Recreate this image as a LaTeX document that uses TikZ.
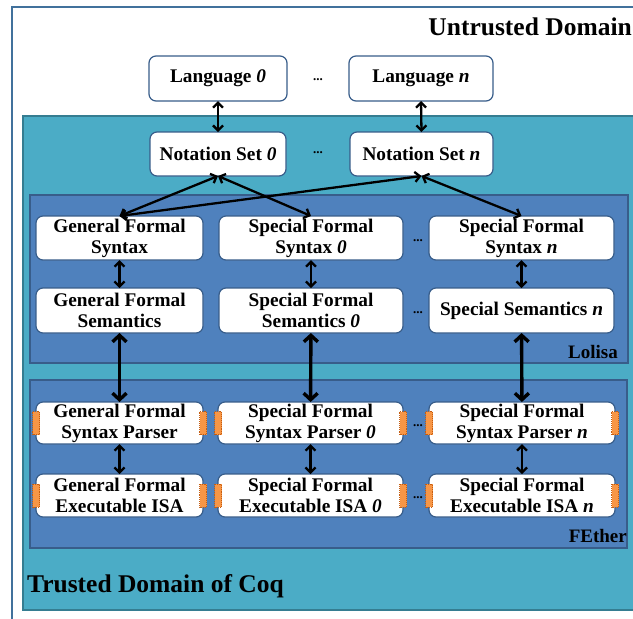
\documentclass[tikz,border=0pt]{standalone}
\usepackage{fontspec}
\setmainfont{Liberation Serif}
\usetikzlibrary{arrows.meta}
\definecolor{frameblue}{HTML}{41719C}
\definecolor{cteal}{HTML}{4BACC6}
\definecolor{ctealdark}{HTML}{357D91}
\definecolor{cblue}{HTML}{4F81BD}
\definecolor{cbluedark}{HTML}{385D8A}
\definecolor{corange}{HTML}{F79646}
\definecolor{corangedark}{HTML}{C65D10}
\begin{document}
\begin{tikzpicture}[x=1pt,y=-1pt,
  box/.style={draw=cbluedark, fill=white, rounded corners=7pt, line width=1.2pt,
    align=center, font=\fontsize{19.3}{21}\selectfont\bfseries, inner sep=0pt, outer sep=0pt},
  arr/.style={{Straight Barb[length=5pt,width=10pt]}-{Straight Barb[length=5pt,width=10pt]}, line width=2.3pt},
  thickarr/.style={{Straight Barb[length=6.5pt,width=14pt]}-{Straight Barb[length=6.5pt,width=14pt]}, line width=3.4pt},
  bar/.style={fill=corange, draw=corangedark, densely dotted, line width=0.9pt},
  dots/.style={font=\fontsize{13}{13}\selectfont\bfseries, inner sep=0pt, anchor=base},
  lbl/.style={font=\fontsize{19}{21}\selectfont\bfseries, inner sep=0pt},
  biglbl/.style={font=\fontsize{25.5}{27}\selectfont\bfseries, inner sep=0pt}
]
\useasboundingbox (0,0) rectangle (633,619);
\clip (0,0) rectangle (633,619);
\fill[white] (0,0) rectangle (633,619);
% frames
\draw[draw=frameblue, fill=white, line width=1.5pt] (12,7) rectangle (660,660);
\draw[draw=ctealdark, fill=cteal, line width=1.5pt] (23,116) rectangle (660,610);
\draw[draw=cbluedark, fill=cblue, line width=1.5pt] (30,195) rectangle (628,363);
\draw[draw=cbluedark, fill=cblue, line width=1.5pt] (30,380) rectangle (627,548);
% labels
\node[biglbl, anchor=base east] (untrusted) at (632,35) {Untrusted Domain};
\node[biglbl, anchor=base west] (trusted) at (27,592) {Trusted Domain of Coq};
\node[lbl, anchor=base east] (lolisa) at (618,358) {Lolisa};
\node[lbl, anchor=base east] (fether) at (627,542) {FEther};
% top nodes
\node[box, minimum width=138pt, minimum height=45pt] (lang0) at (218,78.5) {Language \textit{0}};
\node[box, minimum width=144pt, minimum height=45pt] (langn) at (421,78.5) {Language \textit{n}};
\node[box, minimum width=136pt, minimum height=44pt] (not0) at (218,154) {Notation Set \textit{0}};
\node[box, minimum width=143pt, minimum height=44pt] (notn) at (421.5,154) {Notation Set \textit{n}};
% Lolisa nodes
\node[box, minimum width=167pt, minimum height=44pt] (gsyn) at (119.5,238) {General Formal\\Syntax};
\node[box, minimum width=184pt, minimum height=44pt] (s0syn) at (311,238) {Special Formal\\Syntax \textit{0}};
\node[box, minimum width=185pt, minimum height=44pt] (snsyn) at (521.5,238) {Special Formal\\Syntax \textit{n}};
\node[box, minimum width=167pt, minimum height=45pt] (gsem) at (119.5,310.5) {General Formal\\Semantics};
\node[box, minimum width=184pt, minimum height=45pt] (s0sem) at (311,310.5) {Special Formal\\Semantics \textit{0}};
\node[box, minimum width=185pt, minimum height=45pt] (snsem) at (521.5,310.5) {Special Semantics \textit{n}};
% FEther nodes
\node[box, minimum width=167pt, minimum height=42pt] (gpar) at (119.5,423) {General Formal\\Syntax Parser};
\node[box, minimum width=185pt, minimum height=42pt] (s0par) at (310.5,423) {Special Formal\\Syntax Parser \textit{0}};
\node[box, minimum width=186pt, minimum height=42pt] (snpar) at (522,423) {Special Formal\\Syntax Parser \textit{n}};
\node[box, minimum width=167pt, minimum height=43pt] (gisa) at (119.5,495.5) {General Formal\\Executable ISA};
\node[box, minimum width=185pt, minimum height=43pt] (s0isa) at (310.5,495.5) {Special Formal\\Executable ISA \textit{0}};
\node[box, minimum width=186pt, minimum height=43pt] (snisa) at (522,495.5) {Special Formal\\Executable ISA \textit{n}};
% orange bars
\foreach \n in {gpar,s0par,snpar,gisa,s0isa,snisa}{
  \draw[bar] ([shift={(-3.5,-11.5)}]\n.west) rectangle ([shift={(3.5,11.5)}]\n.west);
  \draw[bar] ([shift={(-3.5,-11.5)}]\n.east) rectangle ([shift={(3.5,11.5)}]\n.east);
}
% dots
\node[dots] (d1) at (318,80) {...};
\node[dots] (d2) at (318,153) {...};
\node[dots] (d3) at (418,241) {...};
\node[dots] (d4) at (418,313) {...};
\node[dots] (d5) at (418,426) {...};
\node[dots] (d6) at (418,498) {...};
% arrows
\draw[arr] (lang0.south) -- (not0.north);
\draw[arr] (langn.south) -- (notn.north);
\draw[arr] (not0.south) -- (gsyn.north);
\draw[arr] (not0.south) -- (s0syn.north);
\draw[arr] (notn.south) -- (gsyn.north);
\draw[arr] (notn.south) -- (snsyn.north);
\draw[arr] (gsyn) -- (gsem);
\draw[arr] (s0syn) -- (s0sem);
\draw[arr] (snsyn) -- (snsem);
\draw[thickarr] (gsem) -- (gpar);
\draw[thickarr] (s0sem) -- (s0par);
\draw[thickarr] (snsem) -- (snpar);
\draw[arr] (gpar) -- (gisa);
\draw[arr] (s0par) -- (s0isa);
\draw[arr] (snpar) -- (snisa);
\end{tikzpicture}
\end{document}
